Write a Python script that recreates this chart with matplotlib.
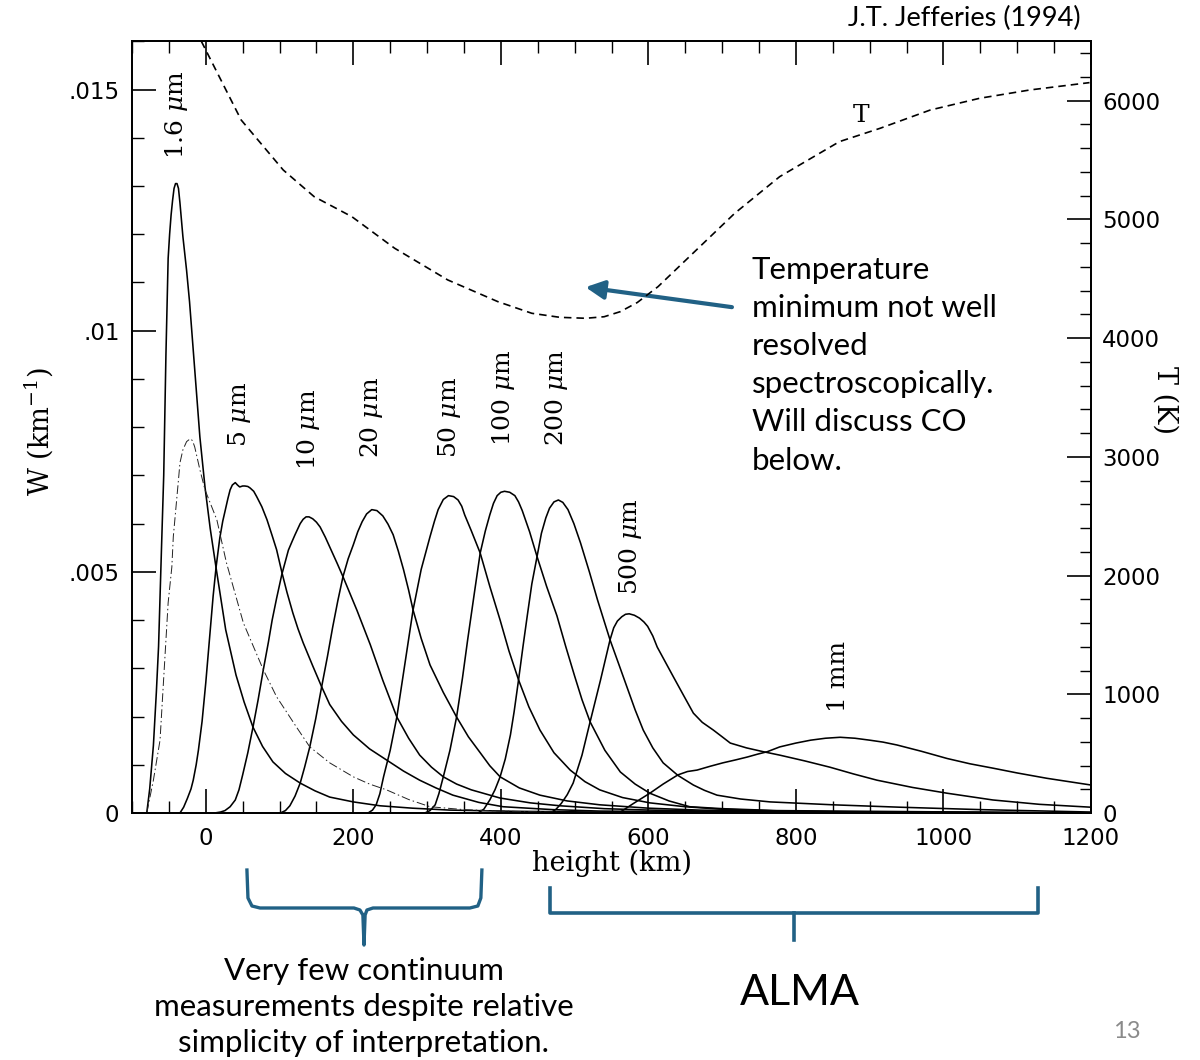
import numpy as np
import matplotlib
matplotlib.use("Agg")
import matplotlib.pyplot as plt
from matplotlib.ticker import MultipleLocator, FixedLocator, FixedFormatter
import matplotlib.transforms as mtransforms

plt.rcParams['mathtext.fontset'] = 'dejavuserif'

# contribution functions W (units of 1e-3 km^-1) vs height (km)
x_16um = [-80, -76, -71, -67, -64, -60, -57, -54, -51, -49, -47, -45, -43, -41, -39, -37, -35, -31, -26, -22,
          -15, -8, -1, 6, 14, 27, 41, 52, 64, 77, 91, 108, 128, 148, 168, 200, 236, 280, 331, 420, 534, 800, 1200]
w_16um = [0, 0.5, 1.4, 2.5, 3.45, 5.5, 7.0, 9.5, 11.5, 12.0, 12.4, 12.7, 12.95, 13.05, 13.05, 12.95, 12.65,
          11.95, 11.25, 10.6, 9.2, 7.8, 6.75, 5.9, 5.08, 3.8, 2.86, 2.3, 1.78, 1.38, 1.06, 0.82, 0.62, 0.46,
          0.33, 0.23, 0.15, 0.10, 0.06, 0.035, 0.02, 0.01, 0.0]

x_5um = [-35, -30, -25, -20, -17, -13, -10, -5, 0, 5, 10, 14, 19, 23, 26, 30, 33, 36, 40, 43, 46, 50, 53, 57,
         60, 65, 69, 76, 83, 90, 96, 103, 110, 118, 125, 132, 145, 157, 168, 184, 200, 222, 245, 268, 290, 312,
         335, 370, 403, 470, 534, 800, 1200]
w_5um = [0, 0.12, 0.3, 0.5, 0.68, 1.0, 1.3, 1.9, 2.7, 3.6, 4.5, 5.1, 5.7, 6.05, 6.25, 6.52, 6.7, 6.8, 6.85,
         6.8, 6.76, 6.78, 6.78, 6.77, 6.74, 6.67, 6.56, 6.35, 6.08, 5.75, 5.46, 5.0, 4.58, 4.15, 3.82, 3.53,
         3.05, 2.62, 2.25, 1.9, 1.62, 1.33, 1.10, 0.87, 0.68, 0.52, 0.37, 0.22, 0.13, 0.07, 0.04, 0.01, 0]

x_10um = [12, 20, 26, 33, 40, 45, 50, 57, 64, 71, 78, 85, 90, 96, 103, 112, 117, 121, 128, 132, 136, 140, 145,
          150, 155, 162, 170, 178, 186, 205, 223, 240, 259, 275, 290, 306, 322, 340, 360, 399, 440, 480, 540,
          602, 700, 805, 1200]
w_10um = [0, 0.02, 0.05, 0.13, 0.27, 0.48, 0.79, 1.25, 1.78, 2.35, 2.97, 3.55, 4.0, 4.45, 4.94, 5.45, 5.63,
          5.77, 6.0, 6.09, 6.14, 6.14, 6.10, 6.03, 5.93, 5.72, 5.45, 5.18, 4.90, 4.2, 3.49, 2.75, 1.99, 1.55,
          1.2, 0.95, 0.75, 0.6, 0.48, 0.31, 0.21, 0.15, 0.09, 0.06, 0.035, 0.02, 0]

x_20um = [101, 108, 114, 121, 128, 134, 141, 149, 157, 165, 172, 179, 186, 193, 200, 206, 212, 218, 225, 232,
          240, 247, 254, 261, 268, 275, 281, 292, 304, 322, 340, 356, 372, 385, 399, 425, 453, 490, 534, 600,
          670, 800, 941, 1200]
w_20um = [0, 0.05, 0.15, 0.35, 0.62, 0.95, 1.37, 1.95, 2.61, 3.25, 3.85, 4.40, 4.90, 5.27, 5.56, 5.83, 6.04,
          6.2, 6.29, 6.27, 6.16, 5.99, 5.77, 5.43, 5.05, 4.62, 4.21, 3.62, 3.07, 2.5, 1.99, 1.58, 1.25, 0.98,
          0.75, 0.52, 0.37, 0.25, 0.17, 0.10, 0.06, 0.03, 0.02, 0]

x_50um = [220, 226, 231, 236, 241, 250, 259, 270, 281, 292, 304, 310, 315, 322, 329, 336, 342, 347, 351, 360,
          372, 385, 399, 411, 424, 438, 453, 472, 494, 514, 534, 565, 602, 650, 697, 780, 873, 1200]
w_50um = [0, 0.06, 0.17, 0.4, 0.75, 1.3, 1.99, 3.1, 4.21, 5.05, 5.73, 6.05, 6.29, 6.5, 6.58, 6.56, 6.49, 6.36,
          6.18, 5.85, 5.39, 4.7, 4.00, 3.36, 2.76, 2.2, 1.72, 1.25, 0.89, 0.65, 0.48, 0.32, 0.21, 0.13, 0.08,
          0.04, 0.02, 0]

x_100um = [297, 304, 311, 316, 322, 331, 340, 348, 355, 364, 372, 379, 385, 390, 395, 400, 405, 412, 419, 424,
           429, 439, 449, 462, 476, 488, 500, 510, 521, 541, 562, 582, 602, 628, 656, 700, 774, 941, 1200]
w_100um = [0, 0.05, 0.17, 0.4, 0.75, 1.3, 1.99, 2.8, 3.59, 4.55, 5.39, 5.85, 6.18, 6.42, 6.58, 6.65, 6.67,
           6.65, 6.58, 6.45, 6.27, 5.83, 5.32, 4.70, 4.09, 3.45, 2.84, 2.35, 1.89, 1.3, 0.85, 0.6, 0.41, 0.25,
           0.13, 0.09, 0.05, 0.03, 0]

x_200um = [369, 377, 385, 392, 399, 406, 413, 418, 424, 430, 436, 442, 449, 455, 461, 466, 472, 478, 484, 491,
           499, 508, 520, 531, 540, 548, 560, 571, 582, 593, 606, 620, 640, 661, 676, 693, 725, 765, 850, 941,
           1050, 1200]
w_200um = [0, 0.08, 0.27, 0.48, 0.75, 1.12, 1.62, 2.1, 2.76, 3.45, 4.11, 4.75, 5.31, 5.8, 6.12, 6.32, 6.45,
           6.49, 6.44, 6.29, 6.0, 5.60, 5.0, 4.42, 3.98, 3.59, 3.08, 2.61, 2.14, 1.72, 1.35, 1.04, 0.78, 0.58,
           0.47, 0.37, 0.29, 0.23, 0.17, 0.12, 0.07, 0.02]

x_500um = [467, 475, 482, 490, 498, 510, 521, 535, 548, 553, 558, 564, 569, 574, 581, 588, 594, 599, 606, 612,
           623, 634, 648, 661, 673, 688, 700, 711, 733, 756, 778, 812, 846, 878, 910, 958, 1005, 1067, 1130, 1200]
w_500um = [0, 0.08, 0.2, 0.38, 0.62, 1.2, 1.89, 2.75, 3.59, 3.84, 3.98, 4.07, 4.12, 4.13, 4.1, 4.04, 3.96, 3.87,
           3.67, 3.44, 3.13, 2.82, 2.43, 2.07, 1.88, 1.72, 1.58, 1.45, 1.35, 1.27, 1.20, 1.08, 0.95, 0.81, 0.68,
           0.53, 0.41, 0.27, 0.18, 0.12]

x_1mm = [555, 562, 580, 602, 620, 640, 653, 666, 684, 701, 718, 734, 748, 761, 778, 800, 820, 840, 860, 880, 900,
         918, 937, 970, 1005, 1036, 1067, 1100, 1140, 1170, 1200]
w_1mm = [0, 0.02, 0.2, 0.41, 0.6, 0.79, 0.86, 0.89, 0.97, 1.04, 1.10, 1.16, 1.22, 1.27, 1.37, 1.45, 1.51, 1.55,
         1.57, 1.55, 1.51, 1.47, 1.41, 1.28, 1.13, 1.02, 0.93, 0.83, 0.72, 0.65, 0.58]

# thin dash-dot curve
x_dd = [-80, -71, -62, -51, -46, -44, -37, -35, -31, -26, -21, -18, -15, -8, -1, 15, 28, 51, 78, 96, 123, 141,
        168, 200, 222, 245, 275, 304, 350, 399, 534]
w_dd = [0, 0.68, 1.51, 4.36, 5.10, 5.73, 6.91, 7.26, 7.53, 7.7, 7.76, 7.72, 7.59, 7.12, 6.70, 6.08, 5.19, 3.94,
        2.97, 2.41, 1.78, 1.37, 1.04, 0.75, 0.6, 0.48, 0.28, 0.13, 0.07, 0.04, 0]

# temperature (K)
x_T = [-6, 48, 105, 147, 198, 256, 328, 396, 442, 480, 515, 540, 562, 585, 613, 665, 717, 778, 859, 914, 982,
       1049, 1117, 1198]
T_K = [6500, 5837, 5416, 5191, 5023, 4757, 4490, 4307, 4209, 4175, 4167, 4180, 4223, 4300, 4433, 4742, 5051,
       5360, 5655, 5767, 5921, 6020, 6090, 6152]

curves = [(x_16um, w_16um), (x_5um, w_5um), (x_10um, w_10um), (x_20um, w_20um), (x_50um, w_50um),
          (x_100um, w_100um), (x_200um, w_200um), (x_500um, w_500um), (x_1mm, w_1mm)]

labels = [r"1.6 $\mu$m", r"5 $\mu$m", r"10 $\mu$m", r"20 $\mu$m", r"50 $\mu$m", r"100 $\mu$m",
          r"200 $\mu$m", r"500 $\mu$m", "1 mm"]
label_x = [-40, 46, 139, 224, 331, 404, 476, 576, 858]
label_w = [14.48, 8.26, 7.95, 8.19, 8.19, 8.61, 8.61, 5.52, 2.82]

W = 1200
H = 1060
fig = plt.figure(figsize=(W / 100, H / 100), dpi=100)
ax = fig.add_axes([132 / W, 1 - 813 / H, (1091 - 132) / W, (813 - 41.3) / H])
ax2 = ax.twinx()

for xs, ws in curves:
    ax.plot(xs, np.array(ws) * 1e-3, color='black', lw=1.15)
ax.plot(x_dd, np.array(w_dd) * 1e-3, color='#222222', lw=0.7, dashes=(9, 3, 1.5, 3))
ax2.plot(x_T, T_K, color='black', lw=1.2, dashes=(4.5, 3))

for lab, lx, lw_ in zip(labels, label_x, label_w):
    ax.text(lx, lw_ * 1e-3, lab, rotation=90, ha='center', va='center', fontsize=18, family='DejaVu Serif')
ax2.text(888, 5879, "T", ha='center', va='center', fontsize=18, family='DejaVu Serif')

ax.set_xlim(-100, 1200)
ax.set_ylim(0, 0.016)
ax2.set_ylim(0, 6500)

ax.xaxis.set_major_locator(MultipleLocator(200))
ax.xaxis.set_minor_locator(MultipleLocator(50))
ax.yaxis.set_major_locator(FixedLocator([0, 0.005, 0.01, 0.015]))
ax.yaxis.set_major_formatter(FixedFormatter(["0", ".005", ".01", ".015"]))
ax.yaxis.set_minor_locator(MultipleLocator(0.001))
ax2.yaxis.set_major_locator(MultipleLocator(1000))
ax2.yaxis.set_minor_locator(MultipleLocator(200))

ax.tick_params(which='major', direction='in', length=17, width=1.2, top=True, right=False,
               labelsize=16.5, pad=9)
ax.tick_params(which='minor', direction='in', length=8.5, width=1.0, top=True, right=False)
ax.tick_params(axis='x', pad=10)
ax2.tick_params(which='major', direction='in', length=17, width=1.2, labelsize=16.5, pad=8)
ax2.tick_params(which='minor', direction='in', length=8, width=1.0)
for a in (ax, ax2):
    for s in a.spines.values():
        s.set_linewidth(1.3)

ax.text(0.5, -0.0655, "height (km)", transform=ax.transAxes, ha='center', va='center',
        fontsize=19.5, family='DejaVu Serif')
ax.text(-0.098, 0.494, r"W (km$^{-1}$)", transform=ax.transAxes, rotation=90, ha='center', va='center',
        fontsize=19.5, family='DejaVu Serif')
ax.text(1.077, 0.535, "T (K)", transform=ax.transAxes, rotation=270, ha='center', va='center',
        fontsize=19.5, family='DejaVu Serif')

blue = '#216185'
ax.annotate('', xy=(511, 0.01091), xytext=(717, 0.01048),
            arrowprops=dict(arrowstyle='-|>', color=blue, lw=3, mutation_scale=28))

fig.text(752 / W, 1 - 256 / H, "Temperature\nminimum not well\nresolved\nspectroscopically.\nWill discuss CO\nbelow.",
         ha='left', va='top', fontsize=22.5, family='Lato', linespacing=1.44)
fig.text(1081 / W, 1 - 18 / H, "J.T. Jefferies (1994)", ha='right', va='center', fontsize=19.5, family='Lato')

# braces under the x axis
trans = mtransforms.blended_transform_factory(ax.transData, ax.transAxes)
bx1 = [55.8, 57.2, 62.6, 73.5, 200.9, 209, 213, 214.5, 214.5, 216, 218.5, 226.7, 358, 368.8, 372.9, 374.3]
by1 = [-0.0739, -0.1101, -0.1205, -0.1231, -0.1231, -0.1257, -0.1322, -0.1711, -0.1711, -0.1322, -0.1257,
       -0.1231, -0.1231, -0.1205, -0.1101, -0.0739]
ax.plot(bx1, by1, color=blue, lw=2.4, transform=trans, clip_on=False, solid_joinstyle='round')
bx2 = [466.6, 466.6, 1128, 1128]
by2 = [-0.0972, -0.1296, -0.1296, -0.0972]
ax.plot(bx2, by2, color=blue, lw=2.6, transform=trans, clip_on=False)
ax.plot([798, 798], [-0.1296, -0.1646], color=blue, lw=2.6, transform=trans, clip_on=False)

fig.text(364 / W, 1 - 1007 / H, "Very few continuum\nmeasurements despite relative\nsimplicity of interpretation.",
         ha='center', va='center', fontsize=22.5, family='Lato', linespacing=1.33)
fig.text(800 / W, 1 - 993 / H, "ALMA", ha='center', va='center', fontsize=31, family='Lato')
fig.text(1127 / W, 1 - 1032 / H, "13", ha='center', va='center', fontsize=17, family='Lato', color='#8a8a8a')

fig.savefig("out.png", dpi=100)
